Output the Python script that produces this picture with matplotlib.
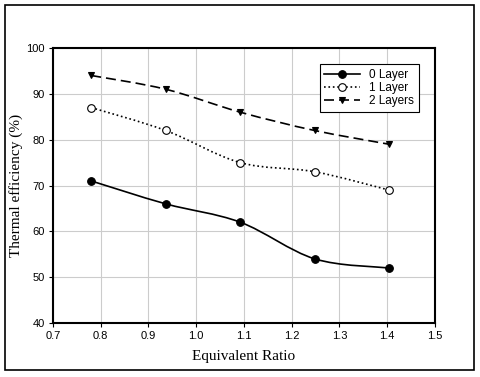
import numpy as np
import matplotlib
matplotlib.use("Agg")
import matplotlib.pyplot as plt
from matplotlib.path import Path
from matplotlib.patches import PathPatch, Rectangle
from matplotlib.lines import Line2D

ratio = [0.78, 0.936, 1.092, 1.248, 1.404]
layer0 = [71, 66, 62, 54, 52]
layer1 = [87, 82, 75, 73, 69]
layer2 = [94, 91, 86, 82, 79]


def smooth_path(x, y):
    # Catmull-Rom style bezier through the points
    x = np.asarray(x, float)
    y = np.asarray(y, float)
    verts = [(x[0], y[0])]
    codes = [Path.MOVETO]
    n = len(x)
    for i in range(n - 1):
        x0, y0 = (x[i - 1], y[i - 1]) if i > 0 else (x[i], y[i])
        x3, y3 = (x[i + 2], y[i + 2]) if i + 2 < n else (x[i + 1], y[i + 1])
        c1 = (x[i] + (x[i + 1] - x0) / 6, y[i] + (y[i + 1] - y0) / 6)
        c2 = (x[i + 1] - (x3 - x[i]) / 6, y[i + 1] - (y3 - y[i]) / 6)
        verts += [c1, c2, (x[i + 1], y[i + 1])]
        codes += [Path.CURVE4] * 3
    return Path(verts, codes)


fig = plt.figure(figsize=(4.8, 3.77), dpi=100)
fig.patches.append(Rectangle((0.011, 0.019), 0.977, 0.968, transform=fig.transFigure,
                             fill=False, edgecolor="black", linewidth=1.2))
ax = fig.add_axes([0.1104, 0.1432, 0.7958, 0.7295])

series = [
    (layer0, "0 Layer", "-", "o", "black", 5.5),
    (layer1, "1 Layer", ":", "o", "white", 5.5),
    (layer2, "2 Layers", (0, (6, 3)), "v", "black", 5.0),
]
handles = []
for vals, lab, ls, mk, fc, ms in series:
    ax.add_patch(PathPatch(smooth_path(ratio, vals), fill=False, edgecolor="black",
                           linestyle=ls, linewidth=1.2, zorder=3))
    ax.plot(ratio, vals, linestyle="none", marker=mk, markersize=ms,
            markerfacecolor=fc, markeredgecolor="black", markeredgewidth=0.8, zorder=4)
    handles.append(Line2D([], [], color="black", linestyle=ls, linewidth=1.2, marker=mk,
                          markersize=ms, markerfacecolor=fc, markeredgecolor="black",
                          markeredgewidth=0.8, label=lab))

ax.set_xlim(0.7, 1.5)
ax.set_ylim(40, 100)
ax.set_xticks(np.arange(0.7, 1.51, 0.1))
ax.set_xticklabels(["%.1f" % v for v in np.arange(0.7, 1.51, 0.1)])
ax.set_yticks(range(40, 101, 10))
ax.grid(True, color="#cccccc", linewidth=0.8)
ax.set_axisbelow(True)
for s in ax.spines.values():
    s.set_linewidth(1.5)
ax.tick_params(direction="out", length=3, width=0.8, labelsize=8, pad=3)
for t in ax.get_xticklabels() + ax.get_yticklabels():
    t.set_family("Liberation Sans")

ax.set_xlabel("Equivalent Ratio", family="Liberation Serif", fontsize=11, labelpad=6)
ax.set_ylabel("Thermal efficiency (%)", family="Liberation Serif", fontsize=11, labelpad=2)

leg = ax.legend(handles=handles, loc="upper right", bbox_to_anchor=(0.958, 0.942),
                borderaxespad=0, frameon=True, fancybox=False, edgecolor="black",
                framealpha=1, prop={"family": "Liberation Sans", "size": 8.5},
                handlelength=3.0, labelspacing=0.1, borderpad=0.4)
leg.get_frame().set_linewidth(0.8)

fig.savefig("out.png", dpi=100)
